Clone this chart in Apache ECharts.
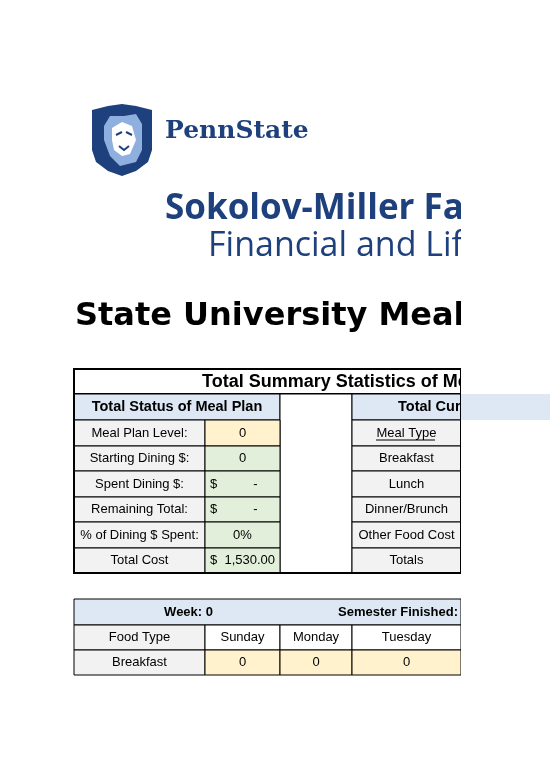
<!DOCTYPE html>
<html><head><meta charset="utf-8">
<script src="https://cdn.jsdelivr.net/npm/echarts@6/dist/echarts.min.js"></script>
<style>html,body{margin:0;padding:0;background:#fff}#c{width:550px;height:777px}</style>
</head><body><div id="c"></div>
<script>
const pageTitle = 'State University Meal Plan';
const summaryTitle = 'Total Summary Statistics of Meal Plan';
const statusHeader = 'Total Status of Meal Plan';
const curHeader = 'Total Current Costs';
const statusLabels = ['Meal Plan Level:', 'Starting Dining $:', 'Spent Dining $:', 'Remaining Total:', '% of Dining $ Spent:', 'Total Cost'];
const statusValues = ['0', '0', '$          -', '$          -', '0%', '$  1,530.00'];
const mealTypes = ['Meal Type', 'Breakfast', 'Lunch', 'Dinner/Brunch', 'Other Food Cost', 'Totals'];
const weekLabel = 'Week: 0';
const semesterLabel = 'Semester Finished:';
const dayHeaders = ['Food Type', 'Sunday', 'Monday', 'Tuesday'];
const breakfastRow = ['Breakfast', '0', '0', '0'];

const BLUE = '#1e407c', FONT = 'Liberation Sans';
const cols = [74, 205, 280, 352, 461];
const rows = [369, 394, 420, 446, 471, 497, 522, 548, 573];
const els = [];
function cell(x0, y0, x1, y1, fill, text, opts) {
  opts = opts || {};
  els.push({type: 'rect', shape: {x: x0, y: y0, width: x1 - x0, height: y1 - y0},
    style: {fill: fill, stroke: '#000', lineWidth: opts.lw || 1}});
  if (text !== undefined) els.push({type: 'text', x: opts.left ? x0 + 5 : (x0 + x1) / 2, y: (y0 + y1) / 2,
    style: {text: text, fill: '#000', font: (opts.bold ? 'bold ' : '') + (opts.size || 13) + 'px ' + FONT,
      align: opts.left ? 'left' : 'center', verticalAlign: 'middle'}});
}
els.push({type: 'text', x: 75, y: 317, style: {text: pageTitle, fill: '#000', font: 'bold 32px "DejaVu Sans"', verticalAlign: 'middle'}});
// logo
els.push({type: 'polygon', shape: {points: [[92,110],[108,106],[122,104],[136,106],[152,110],[152,150],[148,162],[136,171],[122,176],[108,171],[96,162],[92,150]]}, style: {fill: BLUE}});
els.push({type: 'polygon', shape: {points: [[104,126],[110,116],[124,116],[136,114],[142,124],[142,150],[136,162],[120,166],[110,156],[104,140]]}, style: {fill: '#8fb0de'}});
els.push({type: 'polygon', shape: {points: [[112,128],[122,122],[132,126],[136,140],[130,154],[122,156],[114,150],[112,140]]}, style: {fill: '#ffffff'}});
els.push({type: 'polyline', shape: {points: [[116,135],[122,132]]}, style: {stroke: BLUE, lineWidth: 2}});
els.push({type: 'polyline', shape: {points: [[126,132],[132,135]]}, style: {stroke: BLUE, lineWidth: 2}});
els.push({type: 'polyline', shape: {points: [[119,146],[124,150],[129,146]]}, style: {stroke: BLUE, lineWidth: 2}});
els.push({type: 'text', x: 165, y: 131, style: {text: 'PennState', fill: BLUE, font: 'bold 25px "DejaVu Serif"', verticalAlign: 'middle'}});
els.push({type: 'text', x: 165, y: 209, style: {text: 'Sokolov-Miller Family', fill: BLUE, font: 'bold 35px "Open Sans"', verticalAlign: 'middle'}});
els.push({type: 'text', x: 208, y: 246, style: {text: 'Financial and Life', fill: BLUE, font: '34px "Open Sans"', verticalAlign: 'middle'}});
// summary table
cell(74, 369, 461, 394, '#fff', undefined, {lw: 2});
els.push({type: 'text', x: 202, y: 382, style: {text: summaryTitle, fill: '#000', font: 'bold 18px ' + FONT, verticalAlign: 'middle'}});
cell(74, 394, 280, 420, '#dde8f4', statusHeader, {bold: true, size: 14.5});
cell(280, 394, 352, 573, '#fff');
cell(352, 394, 461, 420, '#dde8f4');
els.push({type: 'text', x: 398, y: 407, style: {text: curHeader, fill: '#000', font: 'bold 14.5px ' + FONT, verticalAlign: 'middle'}});
for (let i = 0; i < 6; i++) {
  const y0 = rows[i + 2], y1 = rows[i + 3];
  cell(74, y0, 205, y1, '#f2f2f2', statusLabels[i]);
  cell(205, y0, 280, y1, i === 0 ? '#fff2cc' : '#e2efda', statusValues[i], {left: i === 2 || i === 3 || i === 5});
  cell(352, y0, 461, y1, '#f2f2f2', mealTypes[i]);
}
els.push({type: 'line', shape: {x1: 376, y1: 440, x2: 435, y2: 440}, style: {stroke: '#000', lineWidth: 1}});
els.push({type: 'rect', shape: {x: 74, y: 369, width: 387, height: 204}, style: {fill: 'none', stroke: '#000', lineWidth: 2}});
// week table
cell(74, 599, 461, 625, '#dde8f4');
els.push({type: 'text', x: 213, y: 612, style: {text: weekLabel, fill: '#000', font: 'bold 13px ' + FONT, align: 'right', verticalAlign: 'middle'}});
els.push({type: 'text', x: 458, y: 612, style: {text: semesterLabel, fill: '#000', font: 'bold 13px ' + FONT, align: 'right', verticalAlign: 'middle'}});
for (let j = 0; j < 4; j++) {
  cell(cols[j], 625, cols[j + 1], 650, j === 0 ? '#f2f2f2' : '#fff', dayHeaders[j]);
  cell(cols[j], 650, cols[j + 1], 675, j === 0 ? '#f2f2f2' : '#fff2cc', breakfastRow[j]);
}
// crop
els.push({type: 'rect', shape: {x: 461, y: 0, width: 89, height: 777}, style: {fill: '#fff'}});
els.push({type: 'rect', shape: {x: 461, y: 394, width: 89, height: 26}, style: {fill: '#dde8f4'}});
const chart = echarts.init(document.getElementById('c'));
chart.setOption({animation: false, graphic: {elements: els}});
</script></body></html>
